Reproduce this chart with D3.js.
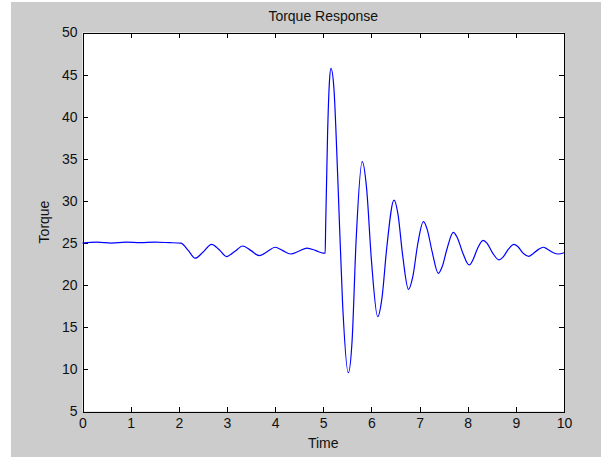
<!DOCTYPE html>
<html>
<head>
  <meta charset="utf-8">
  <title>Torque Response</title>
  <style>
    body { margin: 0; padding: 0; background: #fff; }
    svg { display: block; }
    text { font-family: "Liberation Sans", Arial, sans-serif; fill: #111; }
    .axis path, .axis line { stroke: #000; shape-rendering: crispEdges; }
  </style>
</head>
<body>
<svg class="chart" width="601" height="457"></svg>
<script src="https://d3js.org/d3.v7.min.js"></script>
<script>

// time values (s)
var time = [0, 0.3, 0.6, 0.9, 1.2, 1.5, 1.8, 2.04, 2.2, 2.34, 2.5, 2.68, 2.84, 2.99, 3.16, 3.33, 3.5, 3.67,
            3.84, 4.0, 4.16, 4.32, 4.5, 4.66, 4.85, 5.0, 5.04, 5.05, 5.09, 5.13, 5.16, 5.22, 5.3, 5.4, 5.52,
            5.6, 5.68, 5.81, 5.9, 6.0, 6.13, 6.22, 6.32, 6.47, 6.55, 6.65, 6.77, 6.86, 6.96, 7.08, 7.16, 7.26,
            7.39, 7.47, 7.57, 7.7, 7.78, 7.9, 8.03, 8.1, 8.2, 8.32, 8.4, 8.52, 8.65, 8.73, 8.85, 8.96, 9.04,
            9.15, 9.27, 9.35, 9.47, 9.57, 9.65, 9.78, 9.88, 10];
// torque values
var torque = [25.0, 25.1, 25.0, 25.1, 25.05, 25.1, 25.05, 25.0, 24.1, 23.2, 23.9, 24.85, 24.2, 23.4, 24.0, 24.65, 24.1, 23.5,
              24.0, 24.5, 24.1, 23.7, 24.05, 24.4, 24.1, 23.8, 23.8, 27.0, 38.0, 44.3, 45.75, 43.5, 33.0, 18.0, 9.6,
              13.5, 25.0, 34.66, 31.5, 23.0, 16.26, 18.5, 24.5, 30.1, 28.5, 23.5, 19.5, 21.0, 24.8, 27.54, 26.6, 24.0,
              21.4, 22.2, 24.3, 26.28, 25.7, 23.8, 22.4, 22.9, 24.3, 25.33, 25.0, 23.8, 23.0, 23.3, 24.3, 24.85, 24.6,
              23.8, 23.43, 23.7, 24.25, 24.5, 24.3, 23.85, 23.7, 23.85];

var xTicks = [0, 1, 2, 3, 4, 5, 6, 7, 8, 9, 10];
var yTicks = [5, 10, 15, 20, 25, 30, 35, 40, 45, 50];

var margin = {top: 32.5, right: 37, bottom: 45.5, left: 82.5},
    width = 601 - margin.left - margin.right,
    height = 457 - margin.top - margin.bottom;

var svg = d3.select(".chart");

// grey figure background
svg.append("rect")
    .attr("x", 11).attr("y", 2)
    .attr("width", 601 - 11).attr("height", 457 - 2)
    .attr("fill", "#cccccc");

var g = svg.append("g")
    .attr("transform", "translate(" + margin.left + "," + margin.top + ")");

var x = d3.scaleLinear().domain([0, 10]).range([0, width]);
var y = d3.scaleLinear().domain([5, 50]).range([height, 0]);

g.append("rect")
    .attr("width", width).attr("height", height)
    .attr("fill", "#fff");

// axes, ticks pointing inward like matlab
g.append("g").attr("class", "axis")
    .attr("transform", "translate(0," + height + ")")
    .call(d3.axisBottom(x).tickValues(xTicks).tickSizeInner(-5).tickSizeOuter(0).tickPadding(7))
    .selectAll("text").attr("font-size", 14);

g.append("g").attr("class", "axis")
    .call(d3.axisLeft(y).tickValues(yTicks).tickSizeInner(-5).tickSizeOuter(0).tickPadding(5))
    .selectAll("text").attr("font-size", 14);

g.append("g").attr("class", "axis")
    .call(d3.axisTop(x).tickValues(xTicks).tickSizeInner(-5).tickSizeOuter(0).tickFormat(""));

g.append("g").attr("class", "axis")
    .attr("transform", "translate(" + width + ",0)")
    .call(d3.axisRight(y).tickValues(yTicks).tickSizeInner(-5).tickSizeOuter(0).tickFormat(""));

g.selectAll(".axis .domain").attr("stroke", "#000");

var data = time.map(function(t, i) { return {t: t, v: torque[i]}; });

var line = d3.line()
    .x(function(d) { return x(d.t); })
    .y(function(d) { return y(d.v); })
    .curve(d3.curveMonotoneX);

g.append("path")
    .datum(data)
    .attr("fill", "none")
    .attr("stroke", "#0000ff")
    .attr("stroke-width", 1.2)
    .attr("d", line);

// title and axis labels
svg.append("text")
    .attr("x", margin.left + width / 2).attr("y", 21)
    .attr("text-anchor", "middle").attr("font-size", 14)
    .text("Torque Response");

svg.append("text")
    .attr("x", margin.left + width / 2).attr("y", 448)
    .attr("text-anchor", "middle").attr("font-size", 14)
    .text("Time");

svg.append("text")
    .attr("transform", "translate(49," + (margin.top + height / 2) + ") rotate(-90)")
    .attr("text-anchor", "middle").attr("font-size", 14)
    .text("Torque");

</script>
</body>
</html>
